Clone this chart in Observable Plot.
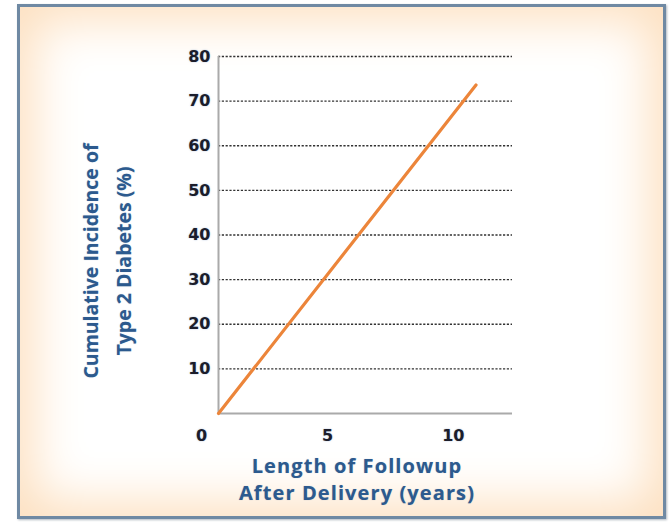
<!DOCTYPE html>
<html>
<head>
<meta charset="utf-8">
<script src="https://cdn.jsdelivr.net/npm/d3@7"></script>
<script src="https://cdn.jsdelivr.net/npm/@observablehq/plot@0.6"></script>
<style>
  html, body { margin: 0; padding: 0; background: #ffffff; }
  #wrap { position: relative; width: 671px; height: 522px; overflow: hidden; background: #fff; }
  #frame {
    position: absolute; left: 17px; top: 4px; width: 643px; height: 509px;
    border: 3px solid #6f89a3;
    background: #ffffff;
    box-shadow: inset 0 0 50px 14px #fde0c0, 1px 1px 2px rgba(60,80,100,0.4);
  }
  #chart { position: absolute; left: 0; top: 0; }
  #chart text { text-shadow: 0 0 1.5px rgba(70,110,170,0.55); }
  .title { position: absolute; color: #2c5a8e; font-family: "Open Sans", sans-serif; font-weight: 700; text-align: center; white-space: nowrap; text-shadow: 0 0 1px rgba(44,90,142,0.35); }
  .xt { left: 157px; width: 400px; font-size: 20px; line-height: 20px; height: 20px; letter-spacing: 1.1px; }
  #xt1 { top: 456px; }
  #xt2 { top: 483px; }
  #ytitle { left: 107px; top: 261px; width: 300px; font-size: 19.5px; line-height: 33px; transform: translate(-50%, -50%) rotate(-90deg); }
</style>
</head>
<body>
<div id="wrap">
  <div id="frame"></div>
  <div id="chart"></div>
  <div class="title xt" id="xt1">Length of Followup</div>
  <div class="title xt" id="xt2">After Delivery (years)</div>
  <div class="title" id="ytitle">Cumulative Incidence of<br>Type 2 Diabetes (%)</div>
</div>
<script>
// Data
const years = [0.67, 10.9];
const incidence = [0, 73.6];
const xTicks = [0, 5, 10];
const yTicks = [10, 20, 30, 40, 50, 60, 70, 80];
const xDomain = [0.67, 12.35];
const yDomain = [0, 80];

const points = years.map((y, i) => ({year: y, pct: incidence[i]}));

const chart = Plot.plot({
  width: 671,
  height: 522,
  marginLeft: 218,
  marginRight: 159,
  marginTop: 56,
  marginBottom: 109,
  style: {background: "transparent", fontFamily: "DejaVu Sans", fontWeight: "bold", fontSize: "16px", color: "#1b1d2b"},
  x: {domain: xDomain, label: null},
  y: {domain: yDomain, label: null},
  marks: [
    Plot.ruleY(yTicks, {stroke: "#333333", strokeWidth: 1.3, strokeDasharray: "2.2,1.6"}),
    Plot.ruleX([xDomain[0]], {y1: yDomain[0], y2: yDomain[1], stroke: "#aaaaaa", strokeWidth: 2}),
    Plot.ruleY([yDomain[0]], {stroke: "#aaaaaa", strokeWidth: 2}),
    Plot.axisY({ticks: yTicks, tickSize: 0, tickPadding: 8, label: null, tickFormat: d => String(d)}),
    Plot.axisX({ticks: xTicks, tickSize: 0, tickPadding: 16, label: null, tickFormat: d => String(d)}),
    Plot.line(points, {x: "year", y: "pct", stroke: "#ec853a", strokeWidth: 3.2})
  ]
});
document.getElementById("chart").appendChild(chart);
</script>
</body>
</html>
